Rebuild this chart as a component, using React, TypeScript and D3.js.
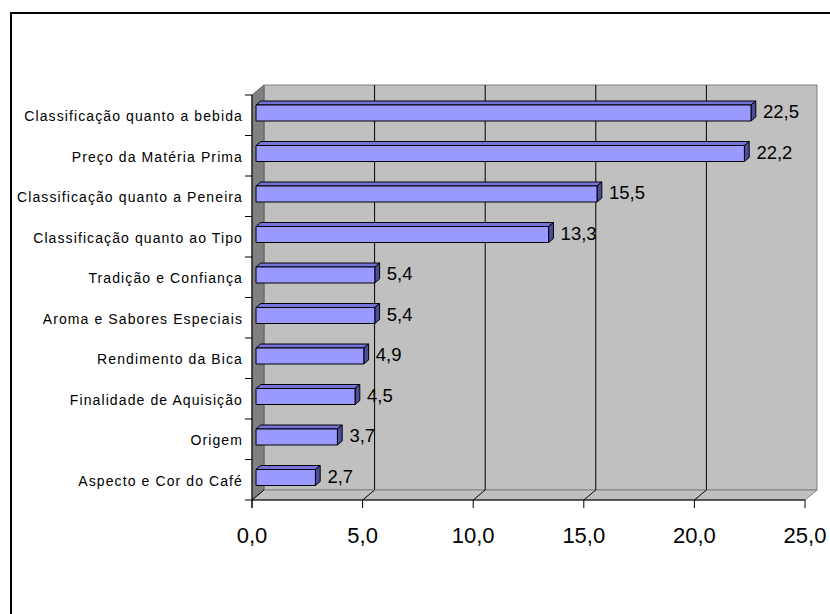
import React from "react";
import * as d3 from "d3";

const categories = [
  "Classificação quanto a bebida",
  "Preço da Matéria Prima",
  "Classificação quanto a Peneira",
  "Classificação quanto ao Tipo",
  "Tradição e Confiança",
  "Aroma e Sabores Especiais",
  "Rendimento da Bica",
  "Finalidade de Aquisição",
  "Origem",
  "Aspecto e Cor do Café",
];
const values = [22.5, 22.2, 15.5, 13.3, 5.4, 5.4, 4.9, 4.5, 3.7, 2.7];
const ticks = [0, 5, 10, 15, 20, 25];

const W = 830;
const H = 614;
const DX = 12;
const DY = -10;
const FONT = "'Liberation Sans', Arial, sans-serif";

const fmt = (v: number) => v.toFixed(1).replace(".", ",");

export default function App() {
  const x = d3.scaleLinear().domain([0, 25]).range([252, 805]);
  const xb = d3.scaleLinear().domain([0, 25]).range([256, 806]);
  const y = d3.scaleBand<string>().domain(categories).range([95, 500]);
  const top = y.range()[0];
  const bottom = y.range()[1];
  const x0 = x(0);
  const x25 = x(25);

  const tF = 0.35;
  const tB = 0.75;
  const barH = 16;

  const pts = (a: [number, number][]) => a.map((p) => p.join(",")).join(" ");

  return (
    <svg
      width={W}
      height={H}
      style={{ position: "absolute", left: 0, top: 0, background: "#fff" }}
    >
      <rect x={11} y={13} width={840} height={640} fill="#fff" stroke="#000" strokeWidth={2} />
      {/* back wall */}
      <rect
        x={x0 + DX}
        y={top + DY}
        width={x25 - x0}
        height={bottom - top}
        fill="#c0c0c0"
        stroke="#808080"
        strokeWidth={1}
      />
      {/* left wall */}
      <polygon
        points={pts([
          [x0, top],
          [x0 + DX, top + DY],
          [x0 + DX, bottom + DY],
          [x0, bottom],
        ])}
        fill="#808080"
        stroke="#606060"
        strokeWidth={1}
      />
      {/* floor */}
      <polygon
        points={pts([
          [x0, bottom],
          [x0 + DX, bottom + DY],
          [x25 + DX, bottom + DY],
          [x25, bottom],
        ])}
        fill="#c0c0c0"
        stroke="#808080"
        strokeWidth={1}
      />
      {/* gridlines */}
      {ticks.slice(1, -1).map((t) => (
        <g key={"g" + t}>
          <line x1={x(t) + DX} x2={x(t) + DX} y1={top + DY} y2={bottom + DY} stroke="#000" strokeWidth={1} />
          <line x1={x(t) + DX} x2={x(t)} y1={bottom + DY} y2={bottom} stroke="#000" strokeWidth={1} />
        </g>
      ))}
      <line x1={x0 + DX} x2={x0} y1={bottom + DY} y2={bottom} stroke="#000" strokeWidth={1} />
      {/* axes */}
      <line x1={x0} x2={x0} y1={top} y2={bottom + 8} stroke="#000" strokeWidth={1} />
      <line x1={x0 - 7} x2={x25} y1={bottom} y2={bottom} stroke="#000" strokeWidth={1} />
      {categories.map((c, i) => (
        <line key={"ct" + i} x1={x0 - 7} x2={x0} y1={y(c)!} y2={y(c)!} stroke="#000" strokeWidth={1} />
      ))}
      {ticks.map((t) => (
        <line key={"xt" + t} x1={x(t)} x2={x(t)} y1={bottom} y2={bottom + 8} stroke="#000" strokeWidth={1} />
      ))}
      {/* bars */}
      {categories.map((c, i) => {
        const v = values[i];
        const cy = y(c)! + y.bandwidth() / 2 + 1.25;
        const yT = cy - barH / 2 + DY * tF;
        const yB = cy + barH / 2 + DY * tF;
        const xf0 = xb(0);
        const xf1 = xb(v);
        const ox = DX * (tB - tF);
        const oy = DY * (tB - tF);
        return (
          <g key={"b" + i} stroke="#000" strokeWidth={1} strokeLinejoin="round">
            <polygon
              points={pts([
                [xf0, yT],
                [xf1, yT],
                [xf1 + ox, yT + oy],
                [xf0 + ox, yT + oy],
              ])}
              fill="#7373d9"
            />
            <polygon
              points={pts([
                [xf1, yT],
                [xf1 + ox, yT + oy],
                [xf1 + ox, yB + oy],
                [xf1, yB],
              ])}
              fill="#4d4d99"
            />
            <rect x={xf0} y={yT} width={xf1 - xf0} height={yB - yT} fill="#9999ff" />
            <text
              x={xf1 + 12}
              y={cy + DY * tF + 5}
              fontFamily={FONT}
              fontSize={18.5}
              fill="#000"
              stroke="none"
            >
              {fmt(v)}
            </text>
          </g>
        );
      })}
      {/* category labels */}
      {categories.map((c) => (
        <text
          key={"l" + c}
          x={243}
          y={y(c)! + y.bandwidth() / 2 + 6}
          textAnchor="end"
          fontFamily={FONT}
          fontSize={14}
          letterSpacing={1.1}
          fill="#000"
        >
          {c}
        </text>
      ))}
      {/* x tick labels */}
      {ticks.map((t) => (
        <text
          key={"xl" + t}
          x={x(t)}
          y={543}
          textAnchor="middle"
          fontFamily={FONT}
          fontSize={22}
          fill="#000"
        >
          {fmt(t)}
        </text>
      ))}
    </svg>
  );
}
